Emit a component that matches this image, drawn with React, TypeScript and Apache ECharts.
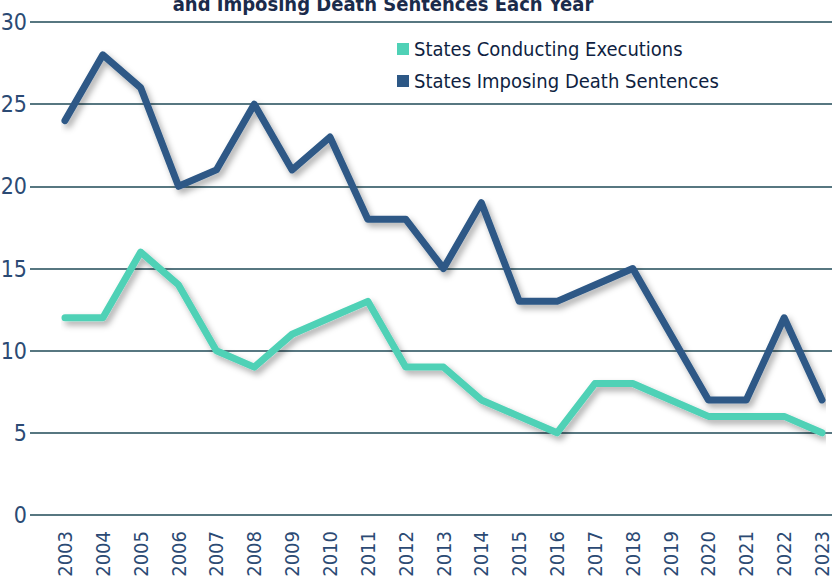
import React, { useEffect, useRef } from "react";
import * as echarts from "echarts";

const years = ["2003","2004","2005","2006","2007","2008","2009","2010","2011","2012","2013","2014","2015","2016","2017","2018","2019","2020","2021","2022","2023"];
const executions = [12, 12, 16, 14, 10, 9, 11, 12, 13, 9, 9, 7, 6, 5, 8, 8, 7, 6, 6, 6, 5];
const sentences = [24, 28, 26, 20, 21, 25, 21, 23, 18, 18, 15, 19, 13, 13, 14, 15, 11, 7, 7, 12, 7];
const seriesNames = ["States Conducting Executions", "States Imposing Death Sentences"];
const titleText = "States Conducting Executions\nand Imposing Death Sentences Each Year";

const FONT = "'Liberation Sans Narrow', 'DejaVu Sans Condensed', 'Roboto Condensed', Roboto, sans-serif";
const TEAL = "#4fd1b6";
const BLUE = "#2d5886";
const GRID = "#1f4a57";
const LABEL = "#2b4a74";

export default function App() {
  const ref = useRef<HTMLDivElement>(null);
  useEffect(() => {
    const chart = echarts.init(ref.current!, null, { renderer: "svg" });
    const lineCommon = {
      type: "line",
      xAxisIndex: 1,
      yAxisIndex: 1,
      symbol: "none",
      smooth: false,
      z: 5,
    };
    chart.setOption({
      animation: false,
      textStyle: { fontFamily: FONT },
      title: {
        text: titleText,
        left: 378,
        textAlign: "center",
        top: -39,
        textStyle: { fontFamily: FONT, fontSize: 20, fontWeight: "bold", color: "#1b2b4b", lineHeight: 25 },
      },
      legend: {
        left: 392,
        top: 34,
        orient: "vertical",
        itemWidth: 12,
        itemHeight: 12,
        itemGap: 12,
        icon: "rect",
        textStyle: { fontFamily: FONT, fontSize: 20, color: "#0f1f42" },
        data: seriesNames.map((n, i) => ({ name: n, itemStyle: { color: i === 0 ? TEAL : BLUE } })),
      },
      grid: [
        { left: 30, right: 0, top: 22, bottom: 65, containLabel: false, outerBoundsMode: "none" },
        { left: 65, right: 10, top: 22, bottom: 65, containLabel: false, outerBoundsMode: "none" },
      ],
      xAxis: [
        { type: "value", gridIndex: 0, show: false, min: 0, max: 1 },
        {
          type: "category",
          gridIndex: 1,
          data: years,
          boundaryGap: false,
          axisLine: { show: false },
          axisTick: { show: false },
          axisLabel: { rotate: 90, margin: 16, fontSize: 20, color: LABEL, fontFamily: FONT },
        },
      ],
      yAxis: [
        {
          type: "value",
          gridIndex: 0,
          min: 0,
          max: 30,
          interval: 5,
          axisLine: { show: false },
          axisTick: { show: false },
          axisLabel: { fontSize: 23, color: LABEL, margin: 3, fontFamily: FONT },
          splitLine: { lineStyle: { color: GRID, width: 1.5 } },
        },
        { type: "value", gridIndex: 1, min: 0, max: 30, interval: 5, show: false, splitLine: { show: false } },
      ],
      series: [
        {
          ...lineCommon,
          name: seriesNames[0],
          data: executions,
          itemStyle: { color: TEAL },
          lineStyle: { color: TEAL, width: 7, cap: "round", join: "round", shadowColor: "rgba(0,0,0,0.33)", shadowBlur: 6, shadowOffsetX: 3, shadowOffsetY: 4 },
        },
        {
          ...lineCommon,
          name: seriesNames[1],
          data: sentences,
          itemStyle: { color: BLUE },
          lineStyle: { color: BLUE, width: 7, cap: "round", join: "round", shadowColor: "rgba(0,0,0,0.33)", shadowBlur: 6, shadowOffsetX: 3, shadowOffsetY: 4 },
        },
      ],
    });
    return () => chart.dispose();
  }, []);
  return <div ref={ref} style={{ width: 832, height: 580, position: "absolute", left: 0, top: 0 }} />;
}
